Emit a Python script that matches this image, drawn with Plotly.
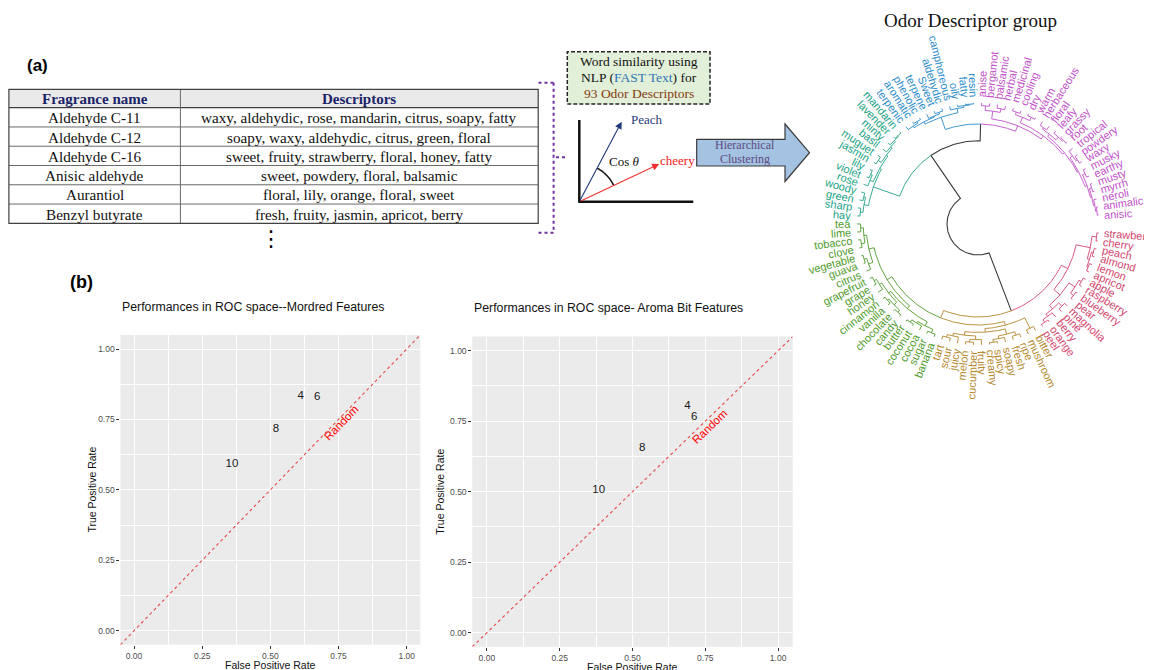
import math
import plotly.graph_objects as go

W, H = 1152, 670
PAGE_OFF = 8  # browser default body margin; drawing coordinates are screen pixels

# ---------------- (a) table data ----------------
table_headers = ["Fragrance name", "Descriptors"]
fragrance_names = ["Aldehyde C-11", "Aldehyde C-12", "Aldehyde C-16",
                   "Anisic aldehyde", "Aurantiol", "Benzyl butyrate"]
fragrance_descriptors = [
    "waxy, aldehydic, rose, mandarin, citrus, soapy, fatty",
    "soapy, waxy, aldehydic, citrus, green, floral",
    "sweet, fruity, strawberry, floral, honey, fatty",
    "sweet, powdery, floral, balsamic",
    "floral, lily, orange, floral, sweet",
    "fresh, fruity, jasmin, apricot, berry",
]

# ---------------- (b) ROC data ----------------
model_labels = ["4", "6", "8", "10"]
mordred_fpr = [0.611, 0.672, 0.521, 0.359]
mordred_tpr = [0.834, 0.828, 0.716, 0.592]
aroma_fpr = [0.689, 0.712, 0.533, 0.384]
aroma_tpr = [0.805, 0.765, 0.654, 0.505]
roc_ticks = [0.0, 0.25, 0.5, 0.75, 1.0]
roc_tick_labels = ["0.00", "0.25", "0.50", "0.75", "1.00"]
roc_minor_ticks = [0.125, 0.375, 0.625, 0.875]
random_label_mordred = (0.760, 0.736)
random_label_aroma = (0.763, 0.730)

# ---------------- dendrogram data ----------------
red_terms = ["strawberry", "cherry", "peach", "almond", "lemon", "apricot", "apple",
             "raspberry", "blueberry", "pear", "magnolia", "pine", "berry", "orange", "peel"]
gold_terms = ["bitter", "mushroom", "ripe", "fresh", "soapy", "spicy", "creamy", "fruity",
              "cucumber", "melon", "juicy", "sour", "tart"]
green_terms = ["banana", "sugar", "cocoa", "coconut", "butter", "candy", "chocolate", "vanilla",
               "cinnamon", "honey", "grape", "grapefruit", "citrus", "guava", "vegetable",
               "clove", "tobacco", "lime", "tea"]
teal_terms = ["hay", "sharp", "green", "woody", "rose", "violet", "lily", "jasmin", "muguet",
              "basil", "minty", "lavender", "mandarin"]
blue_terms = ["terpenic", "aromatic", "phenolic", "terpene", "Sweet", "aldehydic",
              "camphoreous", "oily", "fatty", "resin"]
purple_terms = ["anise", "bergamot", "balsamic", "herbal", "medicinal", "cooling", "dry", "warm",
                "herbaceous", "floral", "leafy", "grassy", "root", "tropical", "powdery", "waxy",
                "musky", "earthy", "musty", "myrrh", "neroli", "animalic", "anisic"]


def N(h, *kids, edge=None):
    return {"h": h, "kids": list(kids), "edge": edge}


red_tree = N(0.23,
             N(0.07, N(0.02, "strawberry", "cherry"),
               N(0.045, N(0.025, "peach", "almond"), N(0.03, "lemon", "apricot"))),
             N(0.14, N(0.06, N(0.03, "apple", "raspberry"), N(0.02, "blueberry", "pear")),
               N(0.09, N(0.04, "magnolia", "pine"), N(0.06, "berry", N(0.025, "orange", "peel")))))
gold_tree = N(0.18, N(0.05, "bitter", "mushroom"),
              N(0.14, N(0.08, N(0.04, "ripe", "fresh"), N(0.05, "soapy", N(0.02, "spicy", "creamy"))),
                N(0.10, N(0.06, "fruity", N(0.03, "cucumber", "melon")),
                  N(0.07, "juicy", N(0.04, "sour", "tart")))))
green_tree = N(0.16,
               N(0.12, N(0.07, N(0.03, "banana", "sugar"), N(0.05, "cocoa", N(0.02, "coconut", "butter"))),
                 N(0.09, N(0.05, N(0.02, "candy", "chocolate"), N(0.03, "vanilla", "cinnamon")),
                   N(0.06, "honey", N(0.03, "grape", "grapefruit")))),
               N(0.10, N(0.05, "citrus", N(0.02, "guava", "vegetable")),
                 N(0.07, N(0.03, "clove", "tobacco"), N(0.04, "lime", "tea"))))
teal_tree = N(0.111, N(0.06, N(0.03, "hay", "sharp"), N(0.04, "green", "woody")),
              N(0.09, N(0.05, "rose", N(0.03, "violet", "lily")),
                N(0.07, N(0.03, "jasmin", "muguet"),
                  N(0.05, "basil", N(0.03, "minty", N(0.02, "lavender", "mandarin"))))))
blue_tree = N(0.089, N(0.06, N(0.04, "terpenic", N(0.02, "aromatic", "phenolic")),
                       N(0.05, "terpene", N(0.03, "Sweet", "aldehydic"))),
              N(0.04, "camphoreous", N(0.02, "oily", N(0.01, "fatty", "resin"))))
purple_tree = N(0.167, N(0.08, N(0.03, "anise", "bergamot"), N(0.04, "balsamic", "herbal")),
                N(0.125, N(0.06, N(0.03, "medicinal", "cooling"), N(0.02, "dry", "warm")),
                  N(0.10, N(0.07, N(0.05, "herbaceous", "floral"), N(0.03, "leafy", N(0.015, "grassy", "root"))),
                    N(0.085, N(0.05, "tropical", N(0.03, "powdery", "waxy")),
                      N(0.06, N(0.03, "musky", "earthy"),
                        N(0.045, N(0.02, "musty", "myrrh"),
                          N(0.03, "neroli", N(0.015, "animalic", "anisic"))))))))
root_tree = N(1.0,
              N(0.311, red_tree, N(0.222, gold_tree, green_tree, edge="gold")),
              N(0.42, teal_tree, N(0.233, blue_tree, purple_tree)))

GROUPS = {"red": red_terms, "gold": gold_terms, "green": green_terms,
          "teal": teal_terms, "blue": blue_terms, "purple": purple_terms}
GROUP_COLORS = {"red": "#D2466F", "gold": "#B4882E", "green": "#4F9B2C",
                "teal": "#21A386", "blue": "#2C8BC9", "purple": "#C150C9"}
ROOT_COLOR = "#3A3A3A"


# ---------------- geometry helpers (screen pixels -> paper) ----------------
def px(x):
    return (x - PAGE_OFF) / W


def py(y):
    return 1 - (y - PAGE_OFF) / H


DEN_CX, DEN_CY = 978, 224
R_LEAF, R_SPAN, R_LABEL = 121, 90, 127
ANG0, STEP = -4.3, 3.82
LABEL_SIZE = 11

ARIAL = {"a": 556, "b": 556, "c": 500, "d": 556, "e": 556, "f": 278, "g": 556, "h": 556,
         "i": 222, "j": 222, "k": 500, "l": 222, "m": 833, "n": 556, "o": 556, "p": 556,
         "q": 556, "r": 333, "s": 500, "t": 278, "u": 556, "v": 500, "w": 722, "x": 500,
         "y": 500, "z": 500, "S": 667}


def text_w(s, size):
    return sum(ARIAL.get(c, 556) for c in s) / 1000 * size


annotations = []


def ann(x, y, text, size, color="#111111", family="Liberation Sans", xref="paper", yref="paper",
        xanchor="center", yanchor="middle", angle=0):
    annotations.append(dict(x=x, y=y, xref=xref, yref=yref, text=text, showarrow=False,
                            xanchor=xanchor, yanchor=yanchor, textangle=angle,
                            font=dict(family=family, size=size, color=color)))


# ---------------- dendrogram computation ----------------
leaf_group = {t: g for g, ts in GROUPS.items() for t in ts}


def leaves(node):
    if isinstance(node, str):
        return [node]
    out = []
    for k in node["kids"]:
        out += leaves(k)
    return out


leaf_order = leaves(root_tree)
leaf_angle = {name: ANG0 - STEP * i for i, name in enumerate(leaf_order)}


def pos(node):
    if isinstance(node, str):
        return leaf_angle[node]
    return (pos(node["kids"][0]) + pos(node["kids"][-1])) / 2


def rad(node):
    if isinstance(node, str):
        return R_LEAF
    return R_LEAF - R_SPAN * node["h"]


def node_color(node):
    gs = {leaf_group[l] for l in leaves(node)}
    if len(gs) == 1:
        return GROUP_COLORS[gs.pop()]
    if isinstance(node, dict) and node["edge"]:
        return GROUP_COLORS[node["edge"]]
    return ROOT_COLOR


edges = {}


def walk(node):
    if isinstance(node, str):
        return
    rp, tp = rad(node), pos(node)
    for ch in node["kids"]:
        tc, rc = pos(ch), rad(ch)
        col = node_color(ch)
        xs, ys = edges.setdefault(col, ([], []))
        n = max(2, int(abs(tc - tp) / 1.0) + 2)
        for i in range(n):
            t = math.radians(tp + (tc - tp) * i / (n - 1))
            xs.append(rp * math.cos(t))
            ys.append(rp * math.sin(t))
        xs.append(rc * math.cos(math.radians(tc)))
        ys.append(rc * math.sin(math.radians(tc)))
        xs.append(None)
        ys.append(None)
        walk(ch)


walk(root_tree)

fig = go.Figure()
shapes = []

# ---------------- (a) table drawn with shapes + text ----------------
TBL_L, TBL_R, TBL_DIV = 8.9, 538.2, 180.4
TBL_T, HDR_B, TBL_B = 89.3, 107.7, 223.3
row_h = (TBL_B - HDR_B) / len(fragrance_names)
shapes.append(dict(type="rect", xref="paper", yref="paper", x0=px(TBL_L), x1=px(TBL_R),
                   y0=py(HDR_B), y1=py(TBL_T), fillcolor="#EAEAEA", line=dict(width=0), layer="below"))
for i in range(1, len(fragrance_names)):
    yy = HDR_B + i * row_h
    shapes.append(dict(type="line", xref="paper", yref="paper", x0=px(TBL_L), x1=px(TBL_R),
                       y0=py(yy), y1=py(yy), line=dict(color="#6A6A6A", width=1)))
shapes.append(dict(type="line", xref="paper", yref="paper", x0=px(TBL_L), x1=px(TBL_R),
                   y0=py(HDR_B), y1=py(HDR_B), line=dict(color="#404040", width=1.2)))
shapes.append(dict(type="line", xref="paper", yref="paper", x0=px(TBL_DIV), x1=px(TBL_DIV),
                   y0=py(TBL_B), y1=py(TBL_T), line=dict(color="#6A6A6A", width=1)))
shapes.append(dict(type="rect", xref="paper", yref="paper", x0=px(TBL_L), x1=px(TBL_R),
                   y0=py(TBL_B), y1=py(TBL_T), line=dict(color="#404040", width=1.2)))
col_centers = [(TBL_L + TBL_DIV) / 2, (TBL_DIV + TBL_R) / 2]
for cx, htxt in zip(col_centers, table_headers):
    ann(px(cx), py((TBL_T + HDR_B) / 2 + 0.5), f"<b>{htxt}</b>", 15, "#1B2469", "Liberation Serif")
for i, (nm, ds) in enumerate(zip(fragrance_names, fragrance_descriptors)):
    yc = HDR_B + (i + 0.5) * row_h + 0.5
    ann(px(col_centers[0]), py(yc), nm, 15.2, "#111111", "Liberation Serif")
    ann(px(col_centers[1]), py(yc), ds, 15.2, "#111111", "Liberation Serif")

# ---------------- ROC panels ----------------
diag = [-0.05, 1.05]
for fpr, tpr, xa, ya in [(mordred_fpr, mordred_tpr, "x", "y"), (aroma_fpr, aroma_tpr, "x2", "y2")]:
    fig.add_trace(go.Scatter(x=diag, y=diag, mode="lines", xaxis=xa, yaxis=ya,
                             line=dict(color="#E8474C", width=1.1, dash="3px,3px"),
                             hoverinfo="skip"))
    fig.add_trace(go.Scatter(x=fpr, y=tpr, mode="text", text=model_labels, xaxis=xa, yaxis=ya,
                             textfont=dict(family="Liberation Sans", size=11.5, color="#1A1A1A")))

# ---------------- dendrogram edges ----------------
for col, (xs, ys) in edges.items():
    fig.add_trace(go.Scatter(x=xs, y=ys, mode="lines", xaxis="x3", yaxis="y3",
                             line=dict(color=col, width=1.1 if col == ROOT_COLOR else 0.9),
                             hoverinfo="skip"))

for name in leaf_order:
    th = leaf_angle[name]
    t = math.radians(th)
    c, s = math.cos(t), math.sin(t)
    w = text_w(name, LABEL_SIZE)
    rc = R_LABEL + w / 2
    phi = th if c >= 0 else th + 180
    phi = ((phi + 90) % 360) - 90
    if phi <= -90:
        phi += 180
    ann(rc * c, rc * s, name, LABEL_SIZE, GROUP_COLORS[leaf_group[name]],
        xref="x3", yref="y3", angle=-phi)

ann(px(970), py(20.7), "Odor Descriptor group", 19, "#111111", "Liberation Serif")

# ---------------- ROC axes & texts ----------------
roc_panels = [
    dict(xa="x", ya="y", xl=120.4, xr=420.3, yt=335.0, yb=644.8,
         title="Performances in ROC space--Mordred Features", title_y=306.7,
         xt_y=665.0, yt_x=91.7, rnd=random_label_mordred, rnd_ang=-45.9),
    dict(xa="x2", ya="y2", xl=472.3, xr=792.7, yt=336.6, yb=646.8,
         title="Performances in ROC space- Aroma Bit Features", title_y=308.3,
         xt_y=667.0, yt_x=440.0, rnd=random_label_aroma, rnd_ang=-44.0),
]
layout_axes = {}
for i, p in enumerate(roc_panels):
    suffix = "" if i == 0 else "2"
    common = dict(range=[-0.05, 1.05], tickvals=roc_ticks, ticktext=roc_tick_labels,
                  showgrid=True, gridcolor="white", gridwidth=1.1,
                  minor=dict(tickvals=roc_minor_ticks, showgrid=True, gridcolor="white",
                             gridwidth=0.5, ticks=""),
                  ticks="outside", ticklen=3, tickwidth=1, tickcolor="#333333",
                  tickfont=dict(family="Liberation Sans", size=8.5, color="#4D4D4D"),
                  zeroline=False, showline=False, fixedrange=True)
    layout_axes["xaxis" + suffix] = dict(domain=[px(p["xl"]), px(p["xr"])], anchor="y" + suffix, **common)
    layout_axes["yaxis" + suffix] = dict(domain=[py(p["yb"]), py(p["yt"])], anchor="x" + suffix, **common)
    shapes.append(dict(type="rect", xref=p["xa"] + " domain", yref=p["ya"] + " domain",
                       x0=0, x1=1, y0=0, y1=1, fillcolor="#EBEBEB", line=dict(width=0), layer="below"))
    ann(px(p["xl"]), py(p["title_y"]), p["title"], 12.3, xanchor="left")
    ann(px((p["xl"] + p["xr"]) / 2), py(p["xt_y"]), "False Positive Rate", 10.5)
    ann(px(p["yt_x"]), py((p["yt"] + p["yb"]) / 2), "True Positive Rate", 10.5, angle=-90)
    ann(p["rnd"][0], p["rnd"][1], "Random", 11.5, "#FF0000", xref=p["xa"], yref=p["ya"], angle=p["rnd_ang"])

# panel letters
ann(px(37.5), py(65), "<b>(a)</b>", 17, "#000000")
ann(px(81.5), py(281.7), "<b>(b)</b>", 18, "#000000")
# continuation dots under the table
ann(px(271), py(238), "⋮", 22, "#000000", "DejaVu Sans")

# purple dotted bracket
BR = dict(color="#7030A0", width=2, dash="dot")
for (x0, y0, x1, y1) in [(538.5, 82.7, 553.6, 82.7), (553.6, 82.7, 553.6, 232.7),
                         (538.5, 232.7, 553.6, 232.7), (556, 157.3, 567.5, 157.3)]:
    shapes.append(dict(type="line", xref="paper", yref="paper", x0=px(x0), y0=py(y0),
                       x1=px(x1), y1=py(y1), line=BR))

# NLP dashed box
shapes.append(dict(type="rect", xref="paper", yref="paper", x0=px(567.3), x1=px(710),
                   y0=py(104), y1=py(51.7), fillcolor="#E2EFD9",
                   line=dict(color="#262626", width=1.5, dash="4px,2px")))
box_cx = (567.3 + 710) / 2
for txt, yy in [("Word similarity using", 61.2),
                ("NLP (<span style='color:#2E75B6'>FAST Text</span>) for", 77.2),
                ("<span style='color:#843C0C'>93 Odor Descriptors</span>", 93.2)]:
    ann(px(box_cx), py(yy), txt, 13.5, "#111111", "Liberation Serif")

# vector diagram
OX, OY = 579.3, 201.7
shapes.append(dict(type="line", xref="paper", yref="paper", x0=px(OX), y0=py(120), x1=px(OX), y1=py(OY),
                   line=dict(color="#111111", width=2.5)))
shapes.append(dict(type="line", xref="paper", yref="paper", x0=px(OX - 1), y0=py(OY), x1=px(693.3), y1=py(OY),
                   line=dict(color="#111111", width=2.5)))
for (hx, hy, col) in [(621.7, 121.7, "#1F3A7A"), (659.3, 164.0, "#F03030")]:
    annotations.append(dict(x=px(hx), y=py(hy), xref="paper", yref="paper", text="",
                            showarrow=True, ax=OX - hx, ay=OY - hy, axref="pixel", ayref="pixel",
                            arrowhead=2, arrowsize=1.3, arrowwidth=1.1, arrowcolor=col, standoff=0))
ann(px(647), py(120), "Peach", 13, "#1F3A7A", "Liberation Serif")
ann(px(677), py(160), "cheery", 13, "#F02020", "Liberation Serif")
ann(px(623.7), py(161.7), "Cos <i>θ</i>", 13, "#111111", "Liberation Serif")
arc_pts = []
for i in range(21):
    a = math.radians(25 + (62 - 25) * i / 20)
    arc_pts.append((px(OX + 38 * math.cos(a)), py(OY - 38 * math.sin(a))))
shapes.append(dict(type="path", xref="paper", yref="paper",
                   path="M " + " L ".join(f"{x:.5f},{y:.5f}" for x, y in arc_pts),
                   line=dict(color="#111111", width=1.5)))

# hierarchical clustering arrow
arrow_pts = [(696.7, 139.3), (785, 139.3), (785, 124), (809.5, 152.7), (785, 181.5), (785, 166), (696.7, 166)]
shapes.append(dict(type="path", xref="paper", yref="paper",
                   path="M " + " L ".join(f"{px(x):.5f},{py(y):.5f}" for x, y in arrow_pts) + " Z",
                   fillcolor="#A4C2E2", line=dict(color="#3A3A3A", width=1.2)))
ann(px(745), py(144.5), "Hierarchical", 12, "#5E4A7E", "Liberation Serif")
ann(px(745), py(158.5), "Clustering", 12, "#5E4A7E", "Liberation Serif")

fig.update_layout(
    width=W, height=H, margin=dict(l=0, r=0, t=0, b=0),
    paper_bgcolor="white", plot_bgcolor="white", showlegend=False,
    xaxis3=dict(domain=[px(800), px(1152)], range=[800 - DEN_CX, 1152 - DEN_CX], visible=False,
                anchor="y3", fixedrange=True),
    yaxis3=dict(domain=[py(450), py(8)], range=[DEN_CY - 450, DEN_CY - 8], visible=False,
                anchor="x3", fixedrange=True),
    annotations=annotations, shapes=shapes,
    **layout_axes,
)

fig.write_html("out.html")
